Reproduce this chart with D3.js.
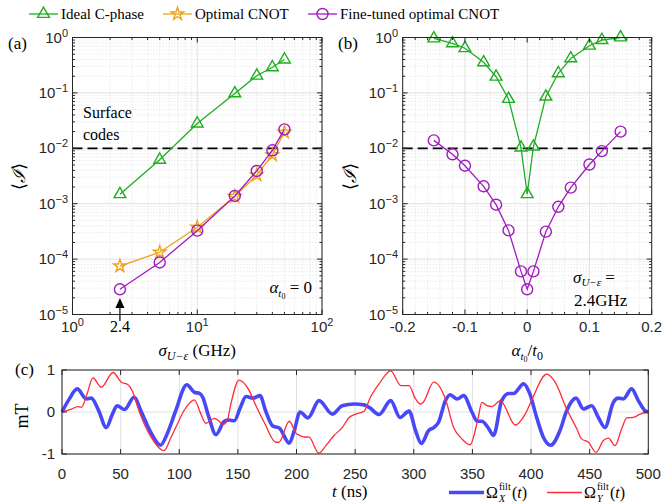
<!DOCTYPE html>
<html>
<head>
<meta charset="utf-8">
<title></title>
<script src="https://cdn.jsdelivr.net/npm/d3@7"></script>
<style>
body { margin: 0; background: #fff; }
.num { font: 15px "Liberation Sans", Arial, sans-serif; fill: #262626; }
.tex { font-family: "Liberation Serif", "Times New Roman", serif; fill: #000; }
</style>
</head>
<body>
<script>
// ---- data ----
var sigma     = [2.4, 5, 10, 20, 30, 40, 50];               // GHz
var idealA    = [1.48e-3, 6.2e-3, 0.028, 0.098, 0.204, 0.29, 0.40];
var optimalA  = [7.5e-5, 1.33e-4, 3.75e-4, 1.35e-3, 3.3e-3, 7.6e-3, 0.0195];
var fineA     = [2.85e-5, 8.7e-5, 3.26e-4, 1.38e-3, 3.9e-3, 9.2e-3, 0.022];

var alpha  = [-0.15, -0.12, -0.1, -0.07, -0.05, -0.03, -0.01, 0, 0.01, 0.03, 0.05, 0.07, 0.1, 0.12, 0.15];
var idealB = [0.96, 0.785, 0.64, 0.356, 0.196, 0.0776, 0.0103, 1.48e-3, 0.0107, 0.0855, 0.226, 0.42, 0.71, 0.9, 1.0];
var fineB  = [0.0139, 7.8e-3, 4.85e-3, 2.06e-3, 9.6e-4, 3.3e-4, 6.0e-5, 2.85e-5, 6.0e-5, 3.13e-4, 8.8e-4, 1.95e-3, 5.1e-3, 8.9e-3, 0.02];

var threshold = 0.01;

var tX = [0, 6, 13, 20.7, 25, 31, 37.8, 43, 47, 53.4, 61.4, 67.7, 76, 84, 90, 96.6, 106.5, 112.8, 117.6, 120, 125, 131.3,
  138.4, 142.6, 146.9, 152, 156.9, 163, 168.8, 174, 179.6, 185.3, 193.8, 198, 203, 209.8, 219.2, 230.6, 239, 249, 257.6,
  262, 270.4, 280.3, 288.3, 296, 301.6, 306.4, 312.7, 317, 321, 327, 331, 337, 342.5, 349.6, 354, 358, 364, 368, 375,
  381, 385, 393.7, 399, 404.8, 410.5, 416.8, 424.7, 430.4, 438.4, 444.6, 451.7, 457.4, 463, 470.2, 474.5, 478.7, 485.8,
  491.5, 497.2, 500];
var omegaX = [0, 0.3, 0.55, 0.31, 0.33, 0.05, -0.37, -0.05, 0.15, 0.06, 0.35, 0, -0.5, -0.79, -0.5, 0, 0.65, 0.47, 0.44, 0.35, -0.1, -0.54,
  -0.22, -0.19, -0.21, 0.1, 0.37, 0.33, 0.39, 0, -0.33, -0.38, -0.74, -0.45, 0, -0.14, 0.27, -0.05, 0.15, 0.19, 0.17,
  0.11, -0.06, 0.27, -0.13, 0.02, -0.45, -0.75, -0.44, -0.37, -0.25, 0.27, 0.41, 0.31, 0.39, 0, -0.22, -0.22, -0.4, -0.56, 0.27,
  0.44, 0.44, 0.67, 0.43, -0.13, -0.6, -0.79, -0.44, 0.03, 0.33, 0.07, 0.15, -0.13, -0.37, 0.23, 0.33, 0.31, 0.55,
  0.27, 0.03, 0];

var tY = [0, 8, 13.6, 16.5, 21, 26.4, 33.5, 43.5, 50.6, 56.3, 60, 66, 75, 87, 93, 97, 104, 112.8, 118.5, 122.7, 129.8, 134, 137,
  141, 144, 151, 159.7, 165.4, 172.5, 182.4, 185, 193.8, 200, 206, 210.7, 219, 225, 232, 239, 244.8, 250.5, 257.6, 263,
  270.4, 280.3, 289, 296, 300.8, 305.6, 308, 317, 327, 334, 341, 348, 355, 358, 362.4, 366.7, 373.8, 386.6, 395, 401,
  413.4, 420.5, 430.4, 439, 443, 449, 455.4, 461.7, 466, 471.6, 477.3, 481.6, 487.3, 493, 500];
var omegaY = [0, 0.07, 0.13, 0.11, 0.4, 0.81, 0.59, 0.94, 0.71, 0.65, 0.5, 0, -0.55, -0.92, -0.6, -0.37, 0.03, 0.29, -0.05, -0.27, -0.15, -0.22, -0.3,
  -0.2, 0.19, 0.76, 0.51, 0.15, -0.25, -0.72, -0.72, -0.22, -0.52, -0.59, -0.6, -0.98, -0.8, -0.56, -0.37, -0.13, -0.05, 0.02, 0.35,
  0.67, 0.98, 0.63, 0.63, 0.35, 0.19, 0.23, 0.71, 0.31, -0.37, -0.64, -0.78, -0.13, 0.23, 0.15, 0.13, 0.27, -0.31, -0.05, 0.31,
  0.9, 0.71, 0.07, -0.4, -0.64, -0.72, -0.96, -0.68, -0.62, -0.8, -0.4, -0.14, -0.13, -0.05, 0];

// ---- setup ----
var axisColor = "#262626";
var green = "#1fae1f", orange = "#eea21b", purple = "#a01cbd";
var blue = "#4848f6", red = "#ff2a3a";

var svg = d3.select("body").append("svg").attr("width", 662).attr("height", 504);

var xA = d3.scaleLog().domain([1, 100]).range([72.5, 322]);
var yA = d3.scaleLog().domain([1e-5, 1]).range([314.5, 37.5]);
var xB = d3.scaleLinear().domain([-0.2, 0.2]).range([402.7, 651.7]);
var yB = yA.copy();
var xC = d3.scaleLinear().domain([0, 500]).range([62, 648.3]);
var yC = d3.scaleLinear().domain([-1, 1]).range([454, 370]);

function logMinors(lo, hi) {
  var out = [];
  for (var k = lo; k < hi; k++)
    for (var m = 2; m <= 9; m++) out.push(m * Math.pow(10, k));
  return out;
}

var yMaj = [1e-5, 1e-4, 1e-3, 1e-2, 1e-1, 1];
var yMin = logMinors(-5, 0);

function frame(x, y, xMaj, xMin, yMj, yMn) {
  var g = svg.append("g");
  var xl = x.range()[0], xr = x.range()[1], yb = y.range()[0], yt = y.range()[1];
  // minor grid (dotted)
  g.selectAll(null).data(xMin).enter().append("line")
    .attr("x1", d => x(d)).attr("x2", d => x(d)).attr("y1", yb).attr("y2", yt)
    .attr("stroke", "#d4d4d4").attr("stroke-width", 0.7).attr("stroke-dasharray", "1,2");
  g.selectAll(null).data(yMn).enter().append("line")
    .attr("y1", d => y(d)).attr("y2", d => y(d)).attr("x1", xl).attr("x2", xr)
    .attr("stroke", "#d4d4d4").attr("stroke-width", 0.7).attr("stroke-dasharray", "1,2");
  // major grid
  g.selectAll(null).data(xMaj).enter().append("line")
    .attr("x1", d => x(d)).attr("x2", d => x(d)).attr("y1", yb).attr("y2", yt)
    .attr("stroke", "#e0e0e0").attr("stroke-width", 1);
  g.selectAll(null).data(yMj).enter().append("line")
    .attr("y1", d => y(d)).attr("y2", d => y(d)).attr("x1", xl).attr("x2", xr)
    .attr("stroke", "#e0e0e0").attr("stroke-width", 1);
  return g;
}

function ticks(g, x, y, xMaj, xMin, yMj, yMn) {
  var xl = x.range()[0], xr = x.range()[1], yb = y.range()[0], yt = y.range()[1];
  function vt(vals, len) {
    vals.forEach(function (d) {
      g.append("line").attr("x1", x(d)).attr("x2", x(d)).attr("y1", yb).attr("y2", yb - len);
      g.append("line").attr("x1", x(d)).attr("x2", x(d)).attr("y1", yt).attr("y2", yt + len);
    });
  }
  function ht(vals, len) {
    vals.forEach(function (d) {
      g.append("line").attr("y1", y(d)).attr("y2", y(d)).attr("x1", xl).attr("x2", xl + len);
      g.append("line").attr("y1", y(d)).attr("y2", y(d)).attr("x1", xr).attr("x2", xr - len);
    });
  }
  vt(xMaj, 5); vt(xMin, 2.5); ht(yMj, 5); ht(yMn, 2.5);
  g.append("rect").attr("x", xl).attr("y", yt).attr("width", xr - xl).attr("height", yb - yt)
    .attr("fill", "none");
  g.selectAll("line, rect").attr("stroke", axisColor).attr("stroke-width", 1);
}

function powLabel(g, px, py, exp, anchor) {
  var t = g.append("text").attr("class", "num").attr("x", px).attr("y", py).attr("text-anchor", anchor);
  t.append("tspan").text("10");
  t.append("tspan").attr("dy", -6).style("font-size", "11px").text(exp);
}

function yPowLabels(g, x0, y) {
  yMaj.forEach(function (d) {
    powLabel(g, x0, y(d) + 5, String(Math.round(Math.log10(d))).replace("-", "\u2212"), "end");
  });
}

function markers(g, sym, color, xs, ys, x, y) {
  var pts = xs.map((d, i) => [x(d), y(ys[i])]);
  g.append("path").attr("d", d3.line()(pts)).attr("fill", "none")
    .attr("stroke", color).attr("stroke-width", 1.3);
  pts.forEach(function (p) {
    drawSym(g, sym, color, p[0], p[1]);
  });
}

function drawSym(g, sym, color, px, py) {
  if (sym === "circle") {
    g.append("circle").attr("cx", px).attr("cy", py).attr("r", 5.5)
      .attr("fill", "none").attr("stroke", color).attr("stroke-width", 1.4);
  } else {
    var type = sym === "tri" ? d3.symbolTriangle : d3.symbolStar;
    var size = sym === "tri" ? 60 : 50;
    g.append("path").attr("d", d3.symbol().type(type).size(size)())
      .attr("transform", "translate(" + px + "," + py + ")")
      .attr("fill", "none").attr("stroke", color).attr("stroke-width", 1.4);
  }
}

function dashed(g, x, y) {
  g.append("line").attr("x1", x.range()[0]).attr("x2", x.range()[1])
    .attr("y1", y(threshold)).attr("y2", y(threshold))
    .attr("stroke", "#000").attr("stroke-width", 1.8).attr("stroke-dasharray", "10,5");
}

function avgLabel(px, py) {
  var t = svg.append("text").attr("class", "tex").attr("transform", "translate(" + px + "," + py + ") rotate(-90)")
    .attr("text-anchor", "middle").style("font-size", "18px");
  t.append("tspan").text("\u27E8");
  t.append("tspan").style("font-style", "italic").text("\u2110");
  t.append("tspan").text("\u27E9");
}

// ---- panel (a) ----
var xMajA = [1, 10, 100], xMinA = logMinors(0, 2);
frame(xA, yA, xMajA, xMinA, yMaj, yMin);
var gA = svg.append("g");
dashed(gA, xA, yA);
markers(gA, "tri", green, sigma, idealA, xA, yA);
markers(gA, "star", orange, sigma, optimalA, xA, yA);
markers(gA, "circle", purple, sigma, fineA, xA, yA);
var tA = svg.append("g");
ticks(tA, xA, yA, xMajA, xMinA, yMaj, yMin);
yPowLabels(tA, 68, yA);
xMajA.forEach(function (d) { powLabel(tA, xA(d), 332, String(Math.round(Math.log10(d))), "middle"); });
svg.append("text").attr("class", "tex").attr("x", xA(2.4)).attr("y", 332).attr("text-anchor", "middle")
  .style("font-size", "16px").text("2.4");
// arrow
svg.append("line").attr("x1", xA(2.4)).attr("x2", xA(2.4)).attr("y1", 321).attr("y2", 306)
  .attr("stroke", "#000").attr("stroke-width", 1.2);
svg.append("path").attr("d", "M" + xA(2.4) + ",298 l-4.5,10 l9,0 z").attr("fill", "#000");

var lblA = svg.append("text").attr("class", "tex").attr("x", (xA.range()[0] + xA.range()[1]) / 2).attr("y", 356)
  .attr("text-anchor", "middle").style("font-size", "17px");
lblA.append("tspan").style("font-style", "italic").text("\u03C3");
lblA.append("tspan").attr("dy", 4).style("font-size", "12px").style("font-style", "italic").text("U\u2212\u03B5");
lblA.append("tspan").attr("dy", -4).text(" (GHz)");
avgLabel(25, 176);

svg.append("text").attr("class", "tex").attr("x", 83).attr("y", 118).style("font-size", "16px").text("Surface");
svg.append("text").attr("class", "tex").attr("x", 83).attr("y", 140).style("font-size", "16px").text("codes");

var a0 = svg.append("text").attr("class", "tex").attr("x", 312).attr("y", 293).attr("text-anchor", "end")
  .style("font-size", "17px");
a0.append("tspan").style("font-style", "italic").text("\u03B1");
a0.append("tspan").attr("dy", 4).style("font-size", "11px").style("font-style", "italic").text("t");
a0.append("tspan").attr("dy", 2).style("font-size", "8px").text("0");
a0.append("tspan").attr("dy", -6).text(" = 0");

// ---- panel (b) ----
var xMajB = [-0.2, -0.1, 0, 0.1, 0.2];
var xMinB = d3.range(-0.18, 0.2, 0.02).filter(d => Math.abs(Math.round(d * 100) % 10) !== 0);
frame(xB, yB, xMajB, xMinB, yMaj, yMin);
var gB = svg.append("g");
dashed(gB, xB, yB);
markers(gB, "tri", green, alpha, idealB, xB, yB);
markers(gB, "circle", purple, alpha, fineB, xB, yB);
var tB = svg.append("g");
ticks(tB, xB, yB, xMajB, xMinB, yMaj, yMin);
yPowLabels(tB, 398, yB);
xMajB.forEach(function (d) {
  tB.append("text").attr("class", "num").attr("x", xB(d)).attr("y", 332).attr("text-anchor", "middle")
    .text(d === 0 ? "0" : String(d));
});
var lblB = svg.append("text").attr("class", "tex").attr("x", (xB.range()[0] + xB.range()[1]) / 2).attr("y", 356)
  .attr("text-anchor", "middle").style("font-size", "17px");
lblB.append("tspan").style("font-style", "italic").text("\u03B1");
lblB.append("tspan").attr("dy", 4).style("font-size", "11px").style("font-style", "italic").text("t");
lblB.append("tspan").attr("dy", 2).style("font-size", "8px").text("0");
lblB.append("tspan").attr("dy", -6).text("/");
lblB.append("tspan").style("font-style", "italic").text("t");
lblB.append("tspan").attr("dy", 4).style("font-size", "12px").text("0");
avgLabel(356, 176);

var s1 = svg.append("text").attr("class", "tex").attr("x", 573).attr("y", 283).style("font-size", "17px");
s1.append("tspan").style("font-style", "italic").text("\u03C3");
s1.append("tspan").attr("dy", 3).style("font-size", "11px").style("font-style", "italic").text("U\u2212\u03B5");
s1.append("tspan").attr("dy", -3).text(" =");
svg.append("text").attr("class", "tex").attr("x", 574).attr("y", 306).style("font-size", "17px").text("2.4GHz");

// ---- panel (c) ----
var xMajC = d3.range(0, 501, 50), yMajC = [-1, 0, 1];
frame(xC, yC, xMajC, [], yMajC, []);
var gC = svg.append("g");
var lineC = d3.line().curve(d3.curveMonotoneX);
gC.append("path").attr("d", lineC(tX.map((t, i) => [xC(t), yC(omegaX[i])])))
  .attr("fill", "none").attr("stroke", blue).attr("stroke-width", 3.6);
gC.append("path").attr("d", lineC(tY.map((t, i) => [xC(t), yC(omegaY[i])])))
  .attr("fill", "none").attr("stroke", red).attr("stroke-width", 1.3);
var tC = svg.append("g");
ticks(tC, xC, yC, xMajC, [], yMajC, []);
xMajC.forEach(function (d) {
  tC.append("text").attr("class", "num").attr("x", xC(d)).attr("y", 479).attr("text-anchor", "middle").text(d);
});
yMajC.forEach(function (d) {
  tC.append("text").attr("class", "num").attr("x", 55).attr("y", yC(d) + 5).attr("text-anchor", "end").text(d);
});
svg.append("text").attr("class", "tex").attr("transform", "translate(28,416) rotate(-90)")
  .attr("text-anchor", "middle").style("font-size", "18px").text("mT");
var tl = svg.append("text").attr("class", "tex").attr("x", 332).attr("y", 497).style("font-size", "17px");
tl.append("tspan").style("font-style", "italic").text("t");
tl.append("tspan").text(" (ns)");

// legend of (c)
function omegaLegend(x0, sub, color, width) {
  svg.append("line").attr("x1", x0 - 37).attr("x2", x0 - 2).attr("y1", 492.5).attr("y2", 492.5)
    .attr("stroke", color).attr("stroke-width", width);
  svg.append("text").attr("class", "tex").attr("x", x0).attr("y", 498).style("font-size", "16px").text("\u03A9");
  svg.append("text").attr("class", "tex").attr("x", x0 + 13).attr("y", 490).style("font-size", "10px").text("filt");
  svg.append("text").attr("class", "tex").attr("x", x0 + 13).attr("y", 502).style("font-size", "10px")
    .style("font-style", "italic").text(sub);
  var p = svg.append("text").attr("class", "tex").attr("x", x0 + 26).attr("y", 498).style("font-size", "16px");
  p.append("tspan").text("(");
  p.append("tspan").style("font-style", "italic").text("t");
  p.append("tspan").text(")");
}
omegaLegend(486, "X", blue, 3.6);
omegaLegend(584, "Y", red, 1.3);

// ---- panel letters ----
[["(a)", 8, 49], ["(b)", 338, 49], ["(c)", 15, 375]].forEach(function (l) {
  svg.append("text").attr("class", "tex").attr("x", l[1]).attr("y", l[2]).style("font-size", "17px").text(l[0]);
});

// ---- top legend ----
var legend = [
  { name: "Ideal C-phase", color: green, sym: "tri", x: 29 },
  { name: "Optimal CNOT", color: orange, sym: "star", x: 163 },
  { name: "Fine-tuned optimal CNOT", color: purple, sym: "circle", x: 308 }
];
legend.forEach(function (l) {
  svg.append("line").attr("x1", l.x).attr("x2", l.x + 29).attr("y1", 14).attr("y2", 14)
    .attr("stroke", l.color).attr("stroke-width", 1.3);
  drawSym(svg, l.sym, l.color, l.x + 14.5, 14);
  svg.append("text").attr("class", "tex").attr("x", l.x + 32).attr("y", 19).style("font-size", "15px").text(l.name);
});
</script>
</body>
</html>
